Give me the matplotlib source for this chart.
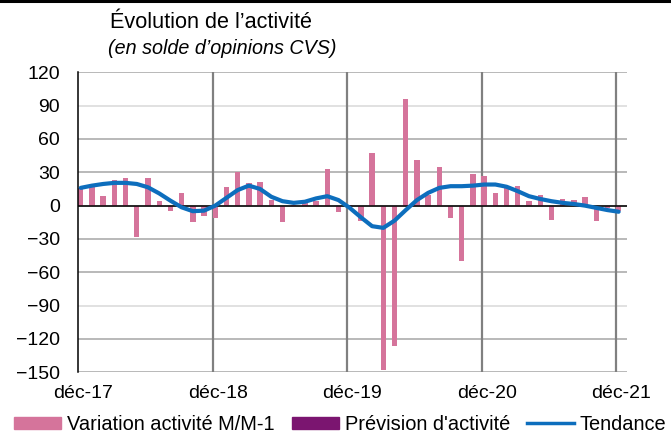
import numpy as np
import matplotlib.pyplot as plt
from matplotlib.lines import Line2D
from matplotlib.patches import Patch

plt.rcParams['font.family'] = ['Liberation Sans', 'DejaVu Sans']

# monthly data, déc-17 .. déc-21
variation = [15.5, 19, 8.5, 23, 25, -28, 25, 4.5, -4.5, 11, -14.5, -9,
             -11, 16.5, 30, 20.5, 21, 5.5, -14.5, 1, 2.5, 4, 33, -6,
             1, -14, 47, -148, -126, 96, 41, 10, 34.5, -11, -50, 28.5,
             27, 11, 16, 17.5, 4.5, 10, -13, 6, 5, 7.5, -14, -2,
             -5]
tendance = [16, 18, 19.5, 20.5, 20.5, 19.5, 16.5, 11, 4.5, -1.5, -5, -4.5,
            0, 7, 14, 18, 15, 8, 4, 2.5, 3.5, 6.5, 8.5, 5,
            -2, -10.5, -18.5, -20, -13.5, -4, 5, 11.5, 16, 17.5, 17.5, 18,
            19, 19, 17, 13, 8.5, 6, 4, 2.5, 1.5, 0, -2, -4,
            -5.5]
prevision = []
tick_labels = ['déc-17', 'déc-18', 'déc-19', 'déc-20', 'déc-21']

pink = '#d5749b'
purple = '#7b1570'
blue = '#0d6ebd'

fig = plt.figure(figsize=(6.71, 4.33), dpi=100)
ax = fig.add_axes([0.1165, 0.1402, 0.818, 0.6928])

x = np.arange(len(variation))
ax.set_xlim(-0.23, 48.75)
ax.set_ylim(-150, 120)

# grid
for v in range(-150, 121, 30):
    c = '#d9d9d9' if abs(v) == 90 else '#a6a6a6'
    ax.axhline(v, color=c, lw=1.1, zorder=0)
for k in range(1, 5):
    ax.axvline(12 * k - 0.23, color='#808080', lw=1.6, zorder=0)

ax.bar(x, variation, width=0.48, color=pink, zorder=2)
if prevision:
    ax.bar(x[:len(prevision)], prevision, width=0.48, color=purple, zorder=2)
ax.axhline(0, color='black', lw=1.1, zorder=3)
ax.plot(x, tendance, color=blue, lw=3, solid_joinstyle='round', solid_capstyle='round', zorder=4)

ax.set_yticks(range(-150, 121, 30))
ax.set_xticks([12 * k + 0.22 for k in range(5)])
ax.set_xticklabels(tick_labels)
ax.tick_params(axis='both', length=0, labelsize=14)
ax.tick_params(axis='x', pad=9)
ax.tick_params(axis='y', pad=13)

for s in ['top', 'right', 'bottom']:
    ax.spines[s].set_visible(False)
ax.spines['left'].set_color('black')
ax.spines['left'].set_linewidth(1.1)

fig.text(0.164, 0.935, 'Évolution de l’activité', fontsize=15.6, ha='left', va='baseline')
fig.text(0.161, 0.875, '(en solde d’opinions CVS)', fontsize=14.2, style='italic',
         ha='left', va='baseline')

fig.add_artist(Line2D([0, 1], [0.997, 0.997], color='black', lw=2.2))

handles = [Patch(color=pink), Patch(color=purple), Line2D([], [], color=blue, lw=2.5)]
labels = ['Variation activité M/M-1', "Prévision d'activité", 'Tendance']
fig.legend(handles, labels, loc='center', bbox_to_anchor=(0.507, 0.02), ncol=3, frameon=False,
           fontsize=14.4, handlelength=2.35, handleheight=0.55, handletextpad=0.3,
           columnspacing=0.85, borderaxespad=0, borderpad=0)

fig.savefig('out.png', dpi=100)
